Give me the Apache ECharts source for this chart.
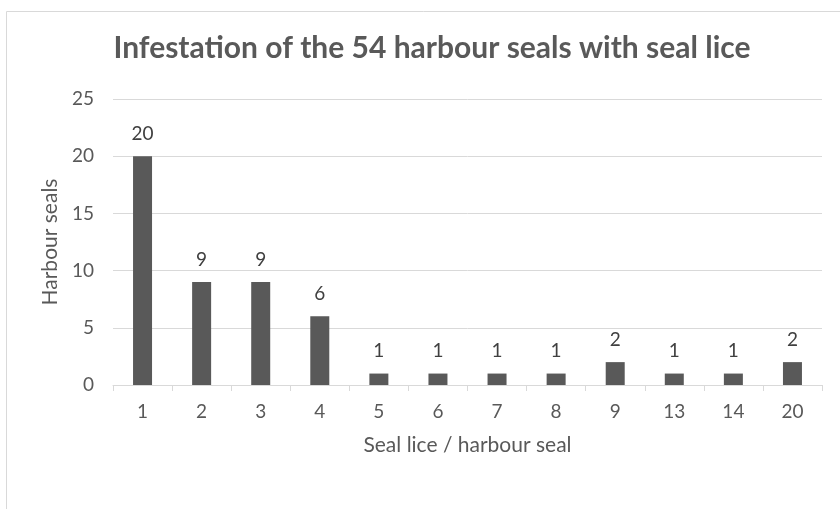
<!DOCTYPE html>
<html>
<head>
<meta charset="utf-8">
<script src="https://cdn.jsdelivr.net/npm/echarts@6/dist/echarts.min.js"></script>
<style>
  html, body { margin: 0; padding: 0; background: #fff; }
  #main { width: 840px; height: 509px; }
</style>
</head>
<body>
<div id="main"></div>
<script>
// seal lice per seal (category axis)
const liceCounts = ['1', '2', '3', '4', '5', '6', '7', '8', '9', '13', '14', '20']
// number of harbour seals
const sealCounts = [20, 9, 9, 6, 1, 1, 1, 1, 2, 1, 1, 2]
const yTicks = [0, 5, 10, 15, 20, 25]

const chart = echarts.init(document.getElementById('main'))

const option = {
  animation: false,
  textStyle: { fontFamily: 'Lato' },
  title: {
    text: 'Infestation of the 54 harbour seals with seal lice',
    left: 427,
    top: 28,
    textAlign: 'center',
    textStyle: {
      fontFamily: 'Lato',
      fontSize: 30,
      fontWeight: 'bold',
      color: '#595959'
    }
  },
  graphic: [
    {
      type: 'rect',
      shape: { x: 6.5, y: 11.5, width: 900, height: 600 },
      style: { fill: 'none', stroke: '#d9d9d9', lineWidth: 1 },
      silent: true
    }
  ],
  grid: {
    left: 113,
    right: 18,
    top: 99,
    bottom: 124
  },
  xAxis: {
    type: 'category',
    data: liceCounts,
    name: 'Seal lice / harbour seal',
    nameLocation: 'middle',
    nameGap: 50,
    nameTextStyle: { fontSize: 21, color: '#595959' },
    axisLine: { lineStyle: { color: '#d9d9d9' } },
    axisTick: { show: true, length: 6, lineStyle: { color: '#d9d9d9' } },
    axisLabel: { fontSize: 19, color: '#595959', margin: 17 }
  },
  yAxis: {
    type: 'value',
    min: yTicks[0],
    max: yTicks[yTicks.length - 1],
    interval: 5,
    name: 'Harbour seals',
    nameLocation: 'middle',
    nameGap: 50,
    nameTextStyle: { fontSize: 21, color: '#595959' },
    axisLine: { show: false },
    axisTick: { show: false },
    axisLabel: { fontSize: 19, color: '#595959', margin: 19 },
    splitLine: { lineStyle: { color: '#d9d9d9' } }
  },
  series: [
    {
      type: 'bar',
      data: sealCounts,
      barWidth: 19,
      itemStyle: { color: '#595959' },
      label: {
        show: true,
        position: 'top',
        distance: 13,
        fontSize: 19,
        color: '#404040'
      }
    }
  ]
}

chart.setOption(option)
</script>
</body>
</html>
